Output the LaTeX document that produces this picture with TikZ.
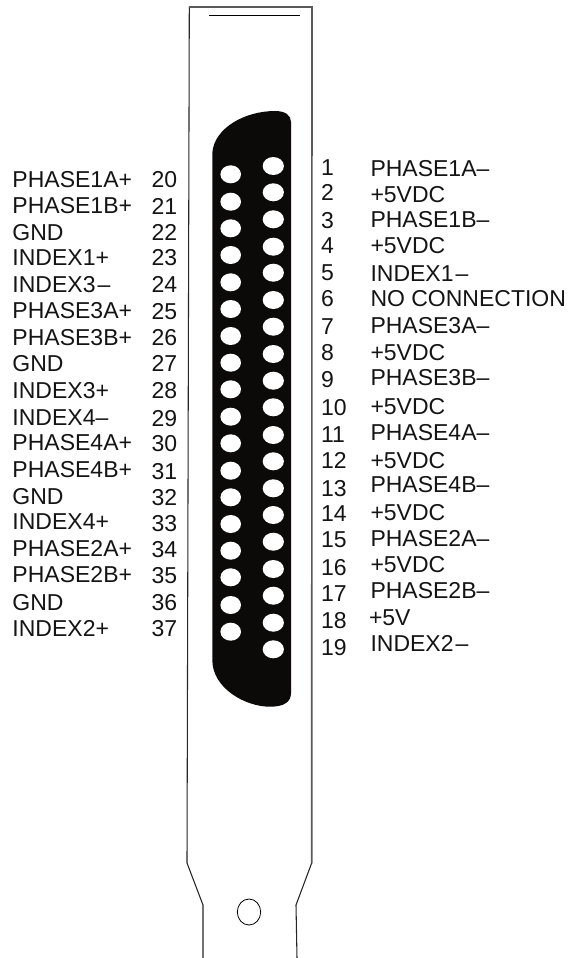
\documentclass[tikz,border=0pt]{standalone}
\usepackage{fontspec}
\setmainfont{Liberation Sans}
\definecolor{shell}{HTML}{0C0A08}
\definecolor{edge}{HTML}{5A5A5A}
\tikzset{
  x=0.75pt,y=-0.75pt,
  lab/.style={anchor=base west,inner sep=0pt,outer sep=0pt,font=\fontsize{17.25pt}{20pt}\selectfont,text=black!92},
  hole/.style={fill=white,draw=none},
  plate/.style={line width=0.8pt,draw=black!85},
  plateR/.style={line width=1.2pt,draw=edge,line cap=round},
}
\begin{document}
\begin{tikzpicture}
\useasboundingbox (0,0) rectangle (568,958);
% bracket outline
\draw[plate] (203,958) -- (203,905) -- (187,863) -- (189.3,7);
\draw[plateR] (189.3,7) -- (312,7) -- (311.7,863);
\draw[plate] (311.7,863) -- (296,905) -- (297,958);
\draw[line width=0.85pt] (209,15.5) -- (300,15.5);
\draw[line width=0.6pt] (249,912) ellipse [x radius=11.7,y radius=13];
% connector shell
\fill[shell] (212.3,153) .. controls (214,128) and (245,111) .. (275,111)
  .. controls (285,111) and (291,115) .. (291,122)
  -- (291,693) .. controls (291,702) and (284,706.7) .. (270,706.7)
  .. controls (245,706.7) and (212.3,688) .. (212.3,660) -- cycle;
% pin holes, left column
\foreach \y in {174.3,201.7,228.3,255,282.3,309,336,362.7,389.3,416.7,443.3,470.7,497.3,524,550.7,577.3,605,631.7}
  \fill[hole] (230.7,\y) ellipse [x radius=10.3,y radius=9];
% pin holes, right column
\foreach \y in {166,192.3,219.3,246.7,272.7,300,326.7,354,380.7,407.3,435,461.3,488.3,515,541.7,569,595.7,622.7,649.3}
  \fill[hole] (273.3,\y) ellipse [x radius=10.6,y radius=9];
% left labels
\foreach \n/\t/\y in {
 l20/{PHASE1A+}/187.7, l21/{PHASE1B+}/213.3, l22/{GND}/240, l23/{INDEX1+}/265,
 l24/{INDEX3\kern1.5pt–}/292.3, l25/{PHASE3A+}/318.3, l26/{PHASE3B+}/345, l27/{GND}/371.7, l28/{INDEX3+}/398,
 l29/{INDEX4–}/425.3, l30/{PHASE4A+}/450.7, l31/{PHASE4B+}/477.3, l32/{GND}/504, l33/{INDEX4+}/529.3,
 l34/{PHASE2A+}/556.7, l35/{PHASE2B+}/582.7, l36/{GND}/610, l37/{INDEX2+}/636}
  \node[lab] (\n) at (12.5,\y) {\t};
\foreach \n/\t/\y in {
 n20/20/187.3, n21/21/214, n22/22/240, n23/23/265.7, n24/24/292.7, n25/25/319, n26/26/345.7, n27/27/371.7, n28/28/398.5,
 n29/29/426, n30/30/451.7, n31/31/479, n32/32/505, n33/33/531.7, n34/34/557.7, n35/35/583.3, n36/36/610.7, n37/37/636.7}
  \node[lab] (\n) at (151.5,\y) {\t};
% right numbers
\foreach \n/\t/\y in {
 n1/1/175, n2/2/200, n3/3/228.3, n4/4/253.3, n5/5/280.7, n6/6/306.7, n7/7/334, n8/8/360.7, n9/9/387.3,
 n10/10/415, n11/11/442.7, n12/12/468.3, n13/13/496, n14/14/521.7, n15/15/547.7, n16/16/575, n17/17/601, n18/18/628.3, n19/19/655}
  \node[lab] (\n) at (321,\y) {\t};
% right labels
\foreach \n/\t/\y in {
 r1/{PHASE1A–}/176, r2/{+5VDC}/202.7, r3/{PHASE1B–}/227.3, r4/{+5VDC}/253.3, r5/{INDEX1\kern1.5pt–}/281.7, r6/{NO CONNECTION}/306.7,
 r7/{PHASE3A–}/333.3, r8/{+5VDC}/360.7, r9/{PHASE3B–}/385,
 r10/{+5VDC}/414, r11/{PHASE4A–}/440, r12/{+5VDC}/468.3, r13/{PHASE4B–}/492.7, r14/{+5VDC}/520, r15/{PHASE2A–}/546,
 r16/{+5VDC}/572.3, r17/{PHASE2B–}/598.3, r19/{INDEX2\kern1.5pt–}/651.7}
  \node[lab] (\n) at (370.5,\y) {\t};
\node[lab] (r18) at (369,625) {+5V};
\end{tikzpicture}
\end{document}
